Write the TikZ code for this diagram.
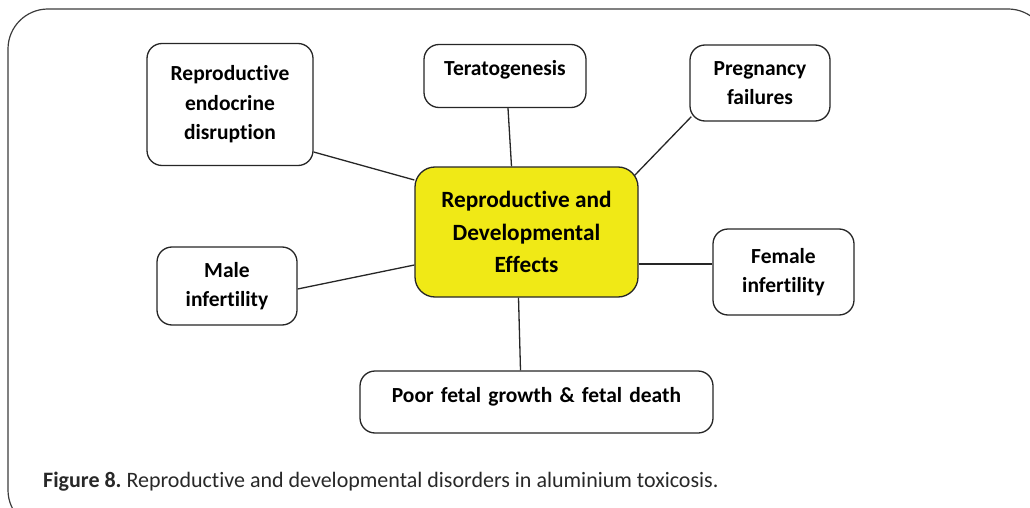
\documentclass[tikz,border=0pt]{standalone}
\usepackage{fontspec}
\setmainfont{Carlito}[Ligatures=NoCommon]
\usetikzlibrary{calc}
\definecolor{coreyellow}{RGB}{240,233,22}
\definecolor{framegray}{RGB}{60,60,60}
\definecolor{captiongray}{RGB}{40,40,40}
\tikzset{
  effect/.style={draw=black!85, line width=1.3pt, rounded corners=15pt, fill=white,
    align=center, inner sep=0pt, font=\bfseries\fontsize{21.5}{29.5}\selectfont},
  corebox/.style={draw=black!85, line width=1.3pt, rounded corners=20pt, fill=coreyellow,
    align=center, inner sep=0pt, font=\bfseries\fontsize{23.3}{32.5}\selectfont},
  link/.style={draw=black!85, line width=1.3pt}
}
\frenchspacing
\begin{document}
\begin{tikzpicture}[x=1pt,y=-1pt]
  \useasboundingbox (0,0) rectangle (1030,508);
  % outer frame, running past the right and bottom edges
  \begin{scope}
    \clip (0,0) rectangle (1030,508);
    \draw[framegray, line width=1.2pt, rounded corners=40pt] (8,9) rectangle (1048,530);
  \end{scope}

  % central node
  \node[corebox, minimum width=223pt, minimum height=130pt] (core) at (526.5,232)
    {Reproductive and\\Developmental\\Effects};

  % surrounding effects
  \node[effect, minimum width=166pt, minimum height=122pt] (endo) at (230,104.5)
    {Reproductive\\endocrine\\disruption};
  \node[effect, text width=162pt, text height=31pt, text depth=32pt] (terat) at (505,76)
    {Teratogenesis};
  \node[effect, minimum width=140pt, minimum height=76pt] (preg) at (760,83)
    {Pregnancy\\failures};
  \node[effect, minimum width=140pt, minimum height=78pt] (male) at (227,286)
    {Male\\infertility};
  \node[effect, minimum width=141pt, minimum height=86pt] (fem) at (783.5,272)
    {Female\\infertility};
  \node[effect, text width=353pt, text height=31pt, text depth=31pt] (poor) at (536.5,402)
    {Poor fetal growth \& fetal death};

  % connectors
  \draw[link] ($(endo.east)+(0,47.5)$) -- ($(core.west)+(0,-52)$);
  \draw[link] ($(terat.south)+(3,0)$) -- ($(core.north)+(-15,0)$);
  \draw[link] ($(preg.south west)+(2,-5)$) -- ($(core.north east)+(-4,9)$);
  \draw[link] ($(male.east)+(0,3)$) -- ($(core.west)+(0,33)$);
  \draw[link] ($(fem.west)+(0,-8)$) -- ($(core.east)+(0,32)$);
  \draw[link] ($(poor.north)+(-16,0)$) -- ($(core.south)+(-8,0)$);

  % caption
  \node[anchor=base west, inner sep=0pt, text=captiongray, font=\fontsize{22}{24}\selectfont] (caption) at (43,487)
    {\textbf{Figure 8.} Reproductive and developmental disorders in aluminium toxicosis.};
\end{tikzpicture}
\end{document}
